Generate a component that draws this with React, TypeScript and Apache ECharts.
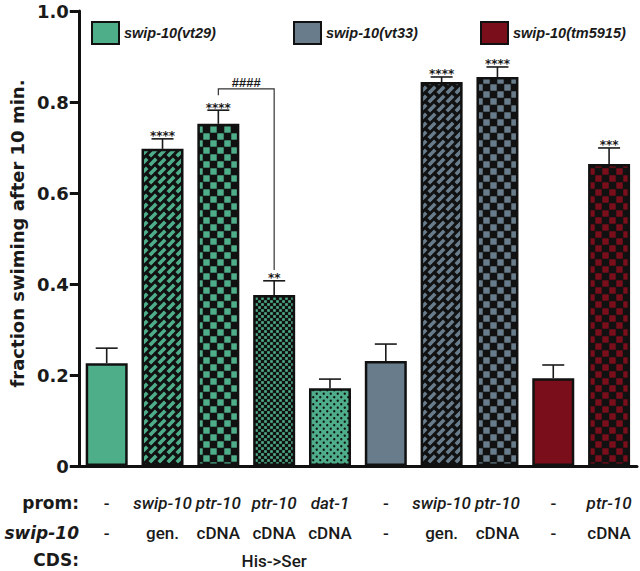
import React, { useEffect, useRef } from 'react';
import * as echarts from 'echarts';

// ---- data ----
const categories = ['b0', 'b1', 'b2', 'b3', 'b4', 'b5', 'b6', 'b7', 'b8', 'b9'];
const promLabels = ['-', 'swip-10', 'ptr-10', 'ptr-10', 'dat-1', '-', 'swip-10', 'ptr-10', '-', 'ptr-10'];
const cdsLabels = ['-', 'gen.', 'cDNA', 'cDNA', 'cDNA', '-', 'gen.', 'cDNA', '-', 'cDNA'];
const cdsNotes = ['', '', '', 'His->Ser', '', '', '', '', '', ''];
const strainNames = ['swip-10(vt29)', 'swip-10(vt33)', 'swip-10(tm5915)'];
const strainOfBar = [0, 0, 0, 0, 0, 1, 1, 1, 2, 2];
const means = [0.226, 0.697, 0.752, 0.376, 0.171, 0.231, 0.844, 0.855, 0.193, 0.664];
const errTops = [0.259, 0.719, 0.782, 0.407, 0.191, 0.268, 0.855, 0.877, 0.222, 0.699];
const stars = ['', '****', '****', '**', '', '', '****', '****', '', '***'];
const patternOfBar = ['solid', 'brick', 'checker', 'fine', 'dots', 'solid', 'brick', 'checker', 'solid', 'checker'];
const yMin = 0;
const yMax = 1;
const yInterval = 0.2;
// bracket between bar index 2 and 3: [from, to, level, leftEnd, rightEnd]
const bracketData = [[2, 3, 0.829, 0.815, 0.431]];
const bracketLabel = '####';

const strainColors = ['#4fae8a', '#687c8b', '#7a0e1a'];
const INK = '#1a1a1a';
const DARK = '#111111';

function tile(size: number, draw: (ctx: CanvasRenderingContext2D) => void) {
  const c = document.createElement('canvas');
  c.width = size;
  c.height = size;
  const ctx = c.getContext('2d') as CanvasRenderingContext2D;
  draw(ctx);
  return { image: c.toDataURL(), repeat: 'repeat', imageWidth: size, imageHeight: size } as any;
}

function makePattern(kind: string, color: string): any {
  if (kind === 'solid') return color;
  if (kind === 'checker') {
    return tile(14, (ctx) => {
      ctx.fillStyle = DARK;
      ctx.fillRect(0, 0, 14, 14);
      ctx.fillStyle = color;
      ctx.fillRect(0.3, 0.3, 6.4, 6.4);
      ctx.fillRect(7.3, 7.3, 6.4, 6.4);
    });
  }
  if (kind === 'fine') {
    return tile(6, (ctx) => {
      ctx.fillStyle = DARK;
      ctx.fillRect(0, 0, 6, 6);
      ctx.fillStyle = color;
      ctx.fillRect(0.2, 0.2, 2.6, 2.6);
      ctx.fillRect(3.2, 3.2, 2.6, 2.6);
    });
  }
  if (kind === 'dots') {
    return tile(7, (ctx) => {
      ctx.fillStyle = color;
      ctx.fillRect(0, 0, 7, 7);
      ctx.fillStyle = DARK;
      ctx.beginPath();
      ctx.arc(1.75, 1.75, 1.15, 0, Math.PI * 2);
      ctx.fill();
      ctx.beginPath();
      ctx.arc(5.25, 5.25, 1.15, 0, Math.PI * 2);
      ctx.fill();
    });
  }
  // brick: staggered "/" dashes on dark ground
  const T = 9;
  const h = 1.3;
  return tile(T, (ctx) => {
    ctx.fillStyle = DARK;
    ctx.fillRect(0, 0, T, T);
    ctx.strokeStyle = color;
    ctx.lineWidth = 3.6;
    ctx.lineCap = 'butt';
    const segs = [
      [-T / 2 + h, T / 2 - h, T / 2 - h, -T / 2 + h],
      [-T / 2 + h, (3 * T) / 2 - h, T / 2 - h, T / 2 + h],
      [T / 2 + h, T / 2 - h, (3 * T) / 2 - h, -T / 2 + h],
      [T / 2 + h, (3 * T) / 2 - h, (3 * T) / 2 - h, T / 2 + h],
    ];
    for (const s of segs) {
      ctx.beginPath();
      ctx.moveTo(s[0], s[1]);
      ctx.lineTo(s[2], s[3]);
      ctx.stroke();
    }
  });
}

const LABEL_FONT = '"DejaVu Sans"';
const CAT_FONT = 'Roboto';

export default function App() {
  const ref = useRef<HTMLDivElement>(null);

  useEffect(() => {
    if (!ref.current) return;
    const chart = echarts.init(ref.current, undefined, { renderer: 'svg' });

    const barSeries = strainNames.map((name, s) => ({
      name,
      type: 'bar',
      barWidth: 42,
      barGap: '-100%',
      itemStyle: { color: strainColors[s], borderColor: DARK, borderWidth: 2.5 },
      data: means.map((m, i) =>
        strainOfBar[i] === s
          ? { value: m, itemStyle: { color: makePattern(patternOfBar[i], strainColors[s]) } }
          : '-'
      ),
      z: 2,
    }));

    const errorSeries = {
      name: 'errors',
      type: 'custom',
      z: 5,
      data: means.map((m, i) => [i, m, errTops[i]]),
      encode: { x: 0, y: [1, 2] },
      renderItem: (params: any, api: any) => {
        const x = api.value(0);
        const p0 = api.coord([x, api.value(1)]);
        const p1 = api.coord([x, api.value(2)]);
        const cap = 11;
        const lineStyle = { stroke: INK, lineWidth: 1.6 };
        const children: any[] = [
          { type: 'line', shape: { x1: p0[0], y1: p0[1], x2: p1[0], y2: p1[1] }, style: lineStyle },
          { type: 'line', shape: { x1: p1[0] - cap, y1: p1[1], x2: p1[0] + cap, y2: p1[1] }, style: lineStyle },
        ];
        const s = stars[params.dataIndex];
        if (s) {
          children.push({
            type: 'text',
            x: p1[0],
            y: p1[1] - 2.5,
            style: {
              text: s,
              align: 'center',
              verticalAlign: 'middle',
              font: 'bold 12px "DejaVu Sans"',
              fill: INK,
            },
          });
        }
        return { type: 'group', children };
      },
    };

    const bracketSeries = {
      name: 'bracket',
      type: 'custom',
      z: 5,
      data: bracketData,
      encode: { x: [0, 1], y: [2, 3, 4] },
      renderItem: (params: any, api: any) => {
        const a = api.coord([api.value(0), api.value(2)]);
        const b = api.coord([api.value(1), api.value(2)]);
        const aEnd = api.coord([api.value(0), api.value(3)]);
        const bEnd = api.coord([api.value(1), api.value(4)]);
        return {
          type: 'group',
          children: [
            {
              type: 'polyline',
              shape: { points: [[a[0], aEnd[1]], [a[0], a[1]], [b[0], b[1]], [b[0], bEnd[1]]] },
              style: { stroke: '#333', lineWidth: 1.2, fill: null },
            },
            {
              type: 'text',
              x: (a[0] + b[0]) / 2,
              y: a[1] - 6,
              style: {
                text: bracketLabel,
                align: 'center',
                verticalAlign: 'middle',
                font: 'bold 13px "Liberation Sans"',
                fill: INK,
              },
            },
          ],
        };
      },
    };

    const legendLefts = [91, 293, 480];
    const catStyle = { fontFamily: CAT_FONT, fontWeight: 500, fontSize: 17, color: INK };

    chart.setOption({
      animation: false,
      backgroundColor: '#ffffff',
      grid: { left: 73, right: 3, top: 11, bottom: 571 - 466 },
      legend: strainNames.map((n, i) => ({
        data: [n],
        left: legendLefts[i],
        top: 21,
        padding: 0,
        itemWidth: 27,
        itemHeight: 22,
        icon: 'rect',
        selectedMode: false,
        itemStyle: { borderColor: DARK, borderWidth: 2 },
        textStyle: {
          fontFamily: '"Liberation Sans"',
          fontWeight: 'bold',
          fontStyle: 'italic',
          fontSize: 14.5,
          color: INK,
        },
      })),
      xAxis: {
        type: 'category',
        data: categories,
        axisLine: { lineStyle: { color: DARK, width: 3 } },
        axisTick: { alignWithLabel: true, length: 12, lineStyle: { color: DARK, width: 3 } },
        axisLabel: {
          interval: 0,
          margin: 22,
          formatter: (_v: string, idx: number) => {
            const p = promLabels[idx];
            const pk = p === '-' ? 'pd' : 'pi';
            let s = `{${pk}|${p}}\n{c|${cdsLabels[idx]}}`;
            if (cdsNotes[idx]) s += `\n{n|${cdsNotes[idx]}}`;
            return s;
          },
          rich: {
            pi: { ...catStyle, fontStyle: 'italic', lineHeight: 30 },
            pd: { ...catStyle, lineHeight: 30 },
            c: { ...catStyle, lineHeight: 30 },
            n: { ...catStyle, lineHeight: 25 },
          },
        },
      },
      yAxis: {
        type: 'value',
        min: yMin,
        max: yMax,
        interval: yInterval,
        name: 'fraction swiming after 10 min.',
        nameLocation: 'middle',
        nameGap: 50,
        nameTextStyle: {
          fontFamily: LABEL_FONT,
          fontWeight: 'bold',
          fontSize: 18,
          color: INK,
          padding: [0, 0, 0, 10],
        },
        splitLine: { show: false },
        axisLine: { show: true, lineStyle: { color: DARK, width: 3 } },
        axisTick: { show: true, length: 9, lineStyle: { color: DARK, width: 3 } },
        axisLabel: {
          margin: 10,
          fontFamily: LABEL_FONT,
          fontWeight: 'bold',
          fontSize: 18,
          color: INK,
          formatter: (v: number) => (v === 0 ? '0' : v.toFixed(1)),
        },
      },
      graphic: [
        {
          type: 'text',
          x: 79,
          y: 503,
          style: { text: 'prom:', align: 'right', verticalAlign: 'middle', font: 'bold 17px "DejaVu Sans"', fill: INK },
        },
        {
          type: 'text',
          x: 79,
          y: 533,
          style: { text: 'swip-10', align: 'right', verticalAlign: 'middle', font: 'italic bold 17px "DejaVu Sans"', fill: INK },
        },
        {
          type: 'text',
          x: 79,
          y: 560,
          style: { text: 'CDS:', align: 'right', verticalAlign: 'middle', font: 'bold 17px "DejaVu Sans"', fill: INK },
        },
      ],
      series: [...barSeries, errorSeries, bracketSeries],
    } as any);

    return () => chart.dispose();
  }, []);

  return (
    <div
      ref={ref}
      style={{ position: 'absolute', left: 0, top: 0, width: 640, height: 571, background: '#fff' }}
    />
  );
}
